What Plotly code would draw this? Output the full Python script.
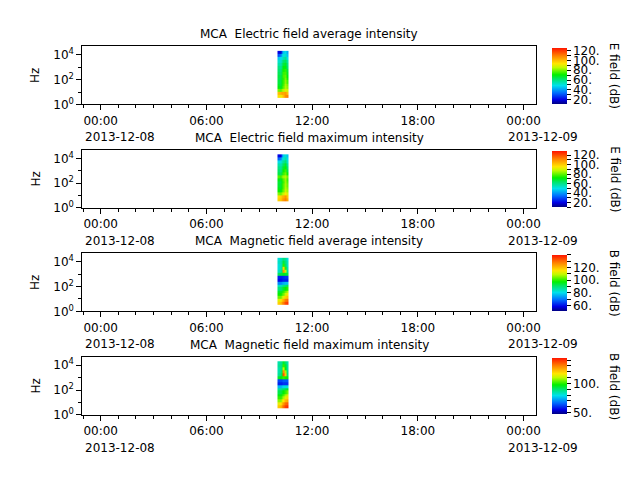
import plotly.graph_objects as go

# ---------------- data ----------------
time_edges = ["2013-12-08 10:02", "2013-12-08 10:08", "2013-12-08 10:14",
              "2013-12-08 10:20", "2013-12-08 10:26", "2013-12-08 10:32",
              "2013-12-08 10:39"]
freq_edges = [3.5, 6, 10, 17, 30, 50, 90, 150, 260, 450, 780, 1300, 2300,
              4000, 6800, 12000, 21000]

e_avg = [
    [95, 92, 95, 100, 108, 110],
    [100, 102, 105, 104, 106, 100],
    [80, 78, 82, 85, 90, 88],
    [70, 68, 72, 78, 85, 82],
    [68, 66, 70, 76, 84, 80],
    [66, 65, 70, 75, 82, 76],
    [65, 64, 68, 74, 80, 72],
    [66, 64, 68, 76, 78, 70],
    [64, 62, 66, 75, 76, 68],
    [62, 60, 65, 72, 74, 66],
    [60, 58, 62, 70, 70, 62],
    [56, 55, 60, 66, 68, 60],
    [52, 52, 56, 62, 64, 56],
    [45, 48, 50, 55, 58, 50],
    [30, 35, 45, 50, 52, 45],
    [20, 18, 30, 45, 48, 42],
]
e_max = [
    [98, 100, 104, 108, 112, 105],
    [96, 98, 102, 104, 108, 100],
    [82, 80, 84, 88, 95, 90],
    [72, 70, 74, 80, 88, 84],
    [70, 68, 72, 78, 86, 82],
    [68, 67, 72, 78, 85, 80],
    [67, 66, 70, 76, 84, 78],
    [70, 68, 72, 78, 84, 76],
    [78, 76, 80, 84, 86, 80],
    [66, 64, 68, 76, 80, 72],
    [63, 60, 64, 72, 76, 66],
    [60, 58, 62, 68, 72, 62],
    [56, 55, 58, 64, 68, 58],
    [48, 50, 54, 58, 62, 52],
    [32, 36, 46, 52, 56, 48],
    [20, 18, 32, 46, 52, 45],
]
b_avg = [
    [118, 120, 124, 128, 134, 136],
    [112, 114, 118, 122, 128, 130],
    [104, 104, 108, 112, 118, 120],
    [98, 98, 100, 104, 110, 114],
    [95, 95, 96, 100, 104, 108],
    [90, 90, 92, 95, 98, 100],
    [84, 84, 86, 88, 90, 92],
    [72, 72, 74, 76, 78, 78],
    [60, 60, 61, 62, 62, 62],
    [62, 62, 62, 63, 64, 64],
    [92, 94, 95, 96, 95, 94],
    [84, 86, 92, 125, 110, 88],
    [82, 84, 90, 118, 100, 86],
    [82, 84, 88, 100, 92, 84],
    [84, 85, 88, 94, 90, 84],
    [82, 84, 86, 90, 88, 82],
]
b_max = [
    [120, 122, 126, 132, 138, 140],
    [114, 116, 120, 126, 132, 134],
    [106, 106, 110, 116, 122, 124],
    [100, 100, 102, 108, 114, 118],
    [96, 96, 98, 102, 108, 112],
    [92, 92, 94, 97, 100, 104],
    [86, 86, 88, 90, 92, 94],
    [74, 74, 76, 78, 80, 80],
    [58, 58, 58, 60, 60, 60],
    [62, 62, 62, 64, 64, 64],
    [94, 96, 98, 100, 98, 96],
    [86, 88, 96, 135, 120, 90],
    [84, 86, 94, 128, 108, 88],
    [84, 86, 90, 110, 96, 86],
    [86, 87, 90, 100, 94, 86],
    [84, 86, 88, 94, 90, 84],
]

titles = ["MCA\u00a0 Electric field average intensity",
          "MCA\u00a0 Electric field maximum intensity",
          "MCA\u00a0 Magnetic field average intensity",
          "MCA\u00a0 Magnetic field maximum intensity"]
cbar_labels = ["E field (dB)", "E field (dB)", "B field (dB)", "B field (dB)"]
cbar_ranges = [(11, 126), (10, 128), (52, 140), (47, 143)]
cbar_major = [[20, 40, 60, 80, 100, 120], [20, 40, 60, 80, 100, 120],
              [60, 80, 100, 120], [50, 100]]
x_tick_vals = ["2013-12-08 00:00", "2013-12-08 06:00", "2013-12-08 12:00",
               "2013-12-08 18:00", "2013-12-09 00:00"]
x_tick_text = ["00:00", "06:00", "12:00", "18:00", "00:00"]
date_labels = [("2013-12-08 00:00", "2013-12-08"), ("2013-12-09 00:00", "2013-12-09")]
y_tick_vals = [1, 100, 10000]
y_tick_text = ["10<sup>0</sup>", "10<sup>2</sup>", "10<sup>4</sup>"]
panels = [e_avg, e_max, b_avg, b_max]

# ---------------- layout helpers ----------------
W, H = 640, 480
def xp(px):
    return px / W
def yp(px):
    return 1 - px / H

FONT = "DejaVu Sans"
FS = 12
colorscale = [
    [0.0, "rgb(0,0,130)"], [0.08, "rgb(0,0,230)"], [0.2, "rgb(0,110,255)"],
    [0.33, "rgb(0,225,235)"], [0.45, "rgb(0,230,100)"], [0.52, "rgb(0,240,0)"],
    [0.65, "rgb(190,250,0)"], [0.72, "rgb(255,230,0)"], [0.86, "rgb(255,130,0)"],
    [1.0, "rgb(255,20,0)"]]

ax_left, ax_right = 83, 540
tops = [47, 152, 257, 362]
ph = 59

fig = go.Figure()
annotations = []
layout = dict(
    width=W, height=H, margin=dict(l=0, r=0, t=0, b=0),
    paper_bgcolor="white", plot_bgcolor="white",
    font=dict(family=FONT, size=FS, color="black"),
    showlegend=False,
)

minor_hours = ["2013-12-07 23:00"] + ["2013-12-08 %02d:00" % h for h in range(24)] + \
              ["2013-12-09 00:00"]

for i, z in enumerate(panels):
    top = tops[i]
    bot = top + ph
    sfx = "" if i == 0 else str(i + 1)
    zmin, zmax = cbar_ranges[i]
    minor_vals = list(range(((zmin + 9) // 10) * 10, zmax + 1, 10))
    ticktext = [("%d." % v) if v in cbar_major[i] else "" for v in minor_vals]
    cb_top = top + 2
    cb_bot = bot - 1
    fig.add_trace(go.Heatmap(
        x=time_edges, y=freq_edges, z=z,
        xaxis="x" + sfx, yaxis="y" + sfx,
        zmin=zmin, zmax=zmax, colorscale=colorscale, zsmooth=False,
        colorbar=dict(
            x=xp(556), xanchor="left", xpad=0, ypad=0,
            y=yp((cb_top + cb_bot) / 2), yanchor="middle",
            len=cb_bot - cb_top, lenmode="pixels", thickness=15,
            outlinewidth=0, ticks="outside", ticklen=4, tickwidth=1,
            tickcolor="black", tickmode="array", tickvals=minor_vals,
            ticktext=ticktext, tickfont=dict(family=FONT, size=FS, color="black"),
        ),
        showscale=True, hoverinfo="skip",
    ))
    layout["xaxis" + sfx] = dict(
        domain=[xp(ax_left), xp(ax_right)], anchor="y" + sfx, type="date",
        range=["2013-12-07 22:57:30", "2013-12-09 00:41:30"],
        showline=True, mirror=True, linecolor="black", linewidth=1,
        showgrid=False, zeroline=False, ticks="outside", ticklen=5, tickwidth=1,
        tickcolor="black", tickmode="array", tickvals=x_tick_vals, ticktext=x_tick_text,
        tickfont=dict(family=FONT, size=FS, color="black"),
        minor=dict(tickmode="array", tickvals=minor_hours, ticks="outside",
                   ticklen=3, tickwidth=1, tickcolor="black", showgrid=False),
    )
    layout["yaxis" + sfx] = dict(
        domain=[yp(bot), yp(top)], anchor="x" + sfx, type="log",
        range=[0, 4.69],
        showline=True, mirror=True, linecolor="black", linewidth=1,
        showgrid=False, zeroline=False, ticks="outside", ticklen=5, tickwidth=1,
        tickcolor="black", tickmode="array", tickvals=y_tick_vals, ticktext=y_tick_text,
        tickfont=dict(family=FONT, size=FS, color="black"),
        minor=dict(tickmode="array", tickvals=[10, 1000], ticks="outside",
                   ticklen=3, tickwidth=1, tickcolor="black", showgrid=False),
    )
    # title
    annotations.append(dict(
        text=titles[i], x=xp((ax_left + ax_right) / 2), y=yp(top - 3),
        xref="paper", yref="paper", xanchor="center", yanchor="bottom",
        showarrow=False, font=dict(family=FONT, size=FS, color="black")))
    # y label
    annotations.append(dict(
        text="Hz", x=xp(36), y=yp(top + ph / 2), xref="paper", yref="paper",
        xanchor="center", yanchor="middle", textangle=-90, showarrow=False,
        font=dict(family=FONT, size=FS, color="black")))
    # colorbar label
    annotations.append(dict(
        text=cbar_labels[i], x=xp(619), y=yp((cb_top + cb_bot) / 2),
        xref="paper", yref="paper", xanchor="center", yanchor="middle",
        textangle=90, showarrow=False,
        font=dict(family=FONT, size=FS, color="black")))
    # date labels under the midnight ticks
    for dval, dtext in date_labels:
        annotations.append(dict(
            text=dtext, x=dval, y=yp(bot + 24), xref="x" + sfx, yref="paper",
            xanchor="left", yanchor="top", xshift=-18, showarrow=False,
            font=dict(family=FONT, size=FS, color="black")))

layout["annotations"] = annotations
fig.update_layout(**layout)
fig.write_html("out.html")
